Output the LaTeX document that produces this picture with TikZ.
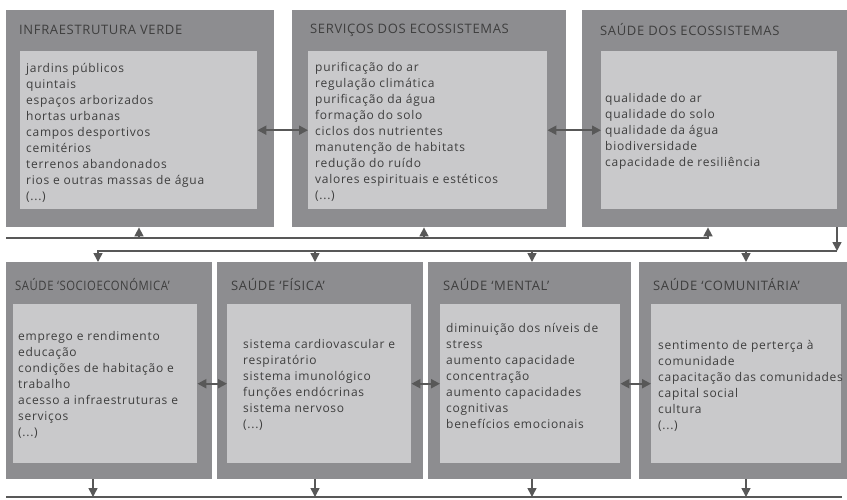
\documentclass[tikz,border=0pt]{standalone}
\usepackage{fontspec}
\setmainfont[LetterSpace=6]{Open Sans}
\newfontfamily\titlefont[LetterSpace=5]{Open Sans}
\usetikzlibrary{positioning, arrows.meta}
\definecolor{outergray}{RGB}{141,141,144}
\definecolor{innergray}{RGB}{201,201,203}
\definecolor{textgray}{RGB}{62,62,62}
\definecolor{linegray}{RGB}{88,88,88}

\begin{document}
\begin{tikzpicture}[
    x=1pt, y=-1pt,
    outerbox/.style={rectangle, fill=outergray, anchor=north west, inner sep=0pt},
    innerbox/.style={rectangle, fill=innergray, anchor=north west, inner sep=0pt},
    boxtitle/.style={anchor=west, inner sep=0pt, text=textgray, font=\titlefont\fontsize{13}{15}\selectfont},
    items/.style={anchor=west, inner sep=0pt, align=left, text=textgray, font=\fontsize{12}{16}\selectfont},
    connection/.style={-{Triangle[length=9pt,width=9pt]}, line width=1.6pt, draw=linegray},
    link/.style={{Triangle[length=9pt,width=9pt]}-{Triangle[length=9pt,width=9pt]}, line width=2pt, draw=linegray},
    rail/.style={line width=1.4pt, draw=linegray}
]
\useasboundingbox (0,0) rectangle (847,499);

% Top row: outer boxes
\node[outerbox, minimum width=268, minimum height=217] (top1) at (6,10) {};
\node[outerbox, minimum width=274, minimum height=217] (top2) at (292,10) {};
\node[outerbox, minimum width=265, minimum height=217] (top3) at (582,10) {};

% Top row: inner boxes
\node[innerbox, minimum width=237, minimum height=158] (in1) at (20,51) {};
\node[innerbox, minimum width=239, minimum height=158] (in2) at (308,51) {};
\node[innerbox, minimum width=236, minimum height=158] (in3) at (601,51) {};

% Top row: titles
\node[boxtitle] (tt1) at (19,30) {INFRAESTRUTURA VERDE};
\node[boxtitle] (tt2) at (310,30) {SERVIÇOS DOS ECOSSISTEMAS};
\node[boxtitle] (tt3) at (600,30) {SAÚDE DOS ECOSSISTEMAS};

% Top row: contents
\node[items] (txt1) at (26,133) {jardins públicos\\quintais\\espaços arborizados\\hortas urbanas\\campos desportivos\\cemitérios\\terrenos abandonados\\rios e outras massas de água\\(...)};
\node[items] (txt2) at (315,132) {purificação do ar\\regulação climática\\purificação da água\\formação do solo\\ciclos dos nutrientes\\manutenção de habitats\\redução do ruído\\valores espirituais e estéticos\\(...)};
\node[items] (txt3) at (605,131) {qualidade do ar\\qualidade do solo\\qualidade da água\\biodiversidade\\capacidade de resiliência};

% Bottom row: outer boxes
\node[outerbox, minimum width=206, minimum height=217] (bot1) at (6,262) {};
\node[outerbox, minimum width=206, minimum height=217] (bot2) at (217,262) {};
\node[outerbox, minimum width=203, minimum height=217] (bot3) at (428,262) {};
\node[outerbox, minimum width=208, minimum height=217] (bot4) at (639,262) {};

% Bottom row: inner boxes
\node[innerbox, minimum width=184, minimum height=159] (ib1) at (13,304) {};
\node[innerbox, minimum width=184, minimum height=159] (ib2) at (227,304) {};
\node[innerbox, minimum width=180, minimum height=159] (ib3) at (440,304) {};
\node[innerbox, minimum width=190, minimum height=159] (ib4) at (651,304) {};

% Bottom row: titles
\node[boxtitle] (tb1) at (15,285) {\scalebox{0.87}[1]{SAÚDE ‘SOCIOECONÓMICA’}};
\node[boxtitle] (tb2) at (231,285) {SAÚDE ‘FÍSICA’};
\node[boxtitle] (tb3) at (443,285) {SAÚDE ‘MENTAL’};
\node[boxtitle] (tb4) at (653,285) {SAÚDE ‘COMUNITÁRIA’};

% Bottom row: contents
\node[items] (tx1) at (18,385) {emprego e rendimento\\educação\\condições de habitação e\\trabalho\\acesso a infraestruturas e\\serviços\\(...)};
\node[items] (tx2) at (243,385) {sistema cardiovascular e\\respiratório\\sistema imunológico\\funções endócrinas\\sistema nervoso\\(...)};
\node[items] (tx3) at (446,376) {diminuição dos níveis de\\stress\\aumento capacidade\\concentração\\aumento capacidades\\cognitivas\\benefícios emocionais};
\node[items] (tx4) at (658,386) {sentimento de perterça à\\comunidade\\capacitação das comunidades\\capital social\\cultura\\(...)};

% Links between neighbouring boxes
\draw[link] (in1.east) -- (in2.west);
\draw[link] (in2.east) -- (in3.west);
\foreach \i/\j in {1/2,2/3,3/4} {
    \draw[link] (ib\i.east) -- (ib\j.west);
}

% Feedback rail to the top row
\coordinate (fbStart) at (6,238);
\coordinate (fbEnd) at (708,238);
\coordinate (fb1) at (139,238);
\coordinate (fb2) at (424,238);
\draw[connection] (fbStart) -- (fbEnd) -- (fbEnd |- top3.south);
\draw[connection] (fb1) -- (fb1 |- top1.south);
\draw[connection] (fb2) -- (fb2 |- top2.south);

% Rail from ecosystem health down to the bottom row
\coordinate (dnCorner) at (837,251);
\coordinate (dn1) at (98,251);
\coordinate (dn2) at (315,251);
\coordinate (dn3) at (532,251);
\coordinate (dn4) at (746,251);
\draw[connection] (dnCorner |- top3.south) -- (dnCorner);
\draw[connection] (dnCorner) -- (dn1) -- (dn1 |- bot1.north);
\foreach \i in {2,3,4} {
    \draw[connection] (dn\i) -- (dn\i |- bot\i.north);
}

% Base rail
\coordinate (baseL) at (6,497);
\coordinate (baseR) at (842,497);
\draw[rail] (baseL) -- (baseR);
\foreach \i/\x in {1/93,2/315,3/532,4/746} {
    \coordinate (out\i) at (\x,497);
    \draw[connection] (out\i |- bot\i.south) -- (out\i);
}

\end{tikzpicture}
\end{document}
